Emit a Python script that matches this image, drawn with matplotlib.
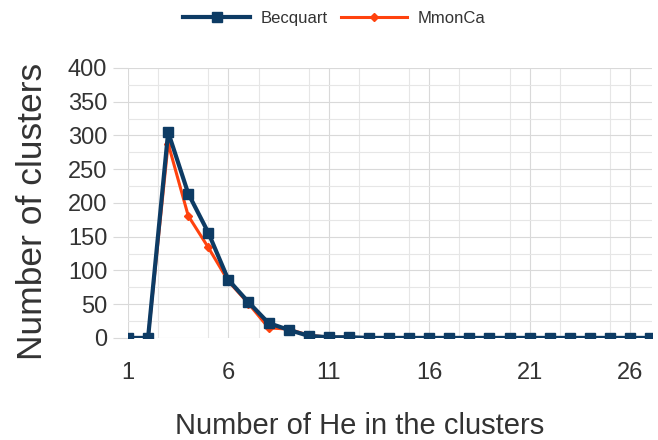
import numpy as np
import matplotlib
matplotlib.use("Agg")
import matplotlib.pyplot as plt
from matplotlib.ticker import MultipleLocator

plt.rcParams["font.family"] = ["Liberation Sans", "DejaVu Sans"]

# -----------------------------
# Data
# -----------------------------
n_he = list(range(1, 28))

becquart = [0, 0, 305, 214, 156, 86, 53, 22, 12, 3, 1, 1,
            0, 0, 0, 0, 0, 0, 0, 0, 0, 0, 0, 0, 0, 0, 0]
mmonca = [0, 0, 288, 181, 134, 84, 51, 15, 13, 4, 1, 1,
          0, 0, 0, 0, 0, 0, 0, 0, 0, 0, 0, 0, 0, 0, 0]

x_ticks = [1, 6, 11, 16, 21, 26]

# -----------------------------
# Plot
# -----------------------------
fig = plt.figure(figsize=(6.58, 4.4), dpi=100)
ax = fig.add_axes([0.1945, 0.232, 0.7965, 0.6135])

ax.plot(n_he, becquart, color="#0d3b64", lw=3.0, marker="s", ms=7,
        label="Becquart", zorder=3)
ax.plot(n_he, mmonca, color="#ff420e", lw=2.2, marker="D", ms=4,
        label="MmonCa", zorder=2)

ax.set_xlim(1, 27.1)
ax.set_ylim(0, 400)
ax.set_xticks(x_ticks)
ax.xaxis.set_minor_locator(MultipleLocator(2.5))
ax.yaxis.set_major_locator(MultipleLocator(50))
ax.yaxis.set_minor_locator(MultipleLocator(25))

ax.grid(True, which="major", color="#d9d9d9", lw=0.8)
ax.grid(True, which="minor", color="#e6e6e6", lw=0.8)
ax.set_axisbelow(True)

for s in ax.spines.values():
    s.set_visible(False)

ax.tick_params(axis="x", which="both", length=0, pad=17, labelsize=17,
               labelcolor="#333333")
ax.tick_params(axis="y", which="major", length=11, width=0.8, color="#d9d9d9",
               pad=4, labelsize=17, labelcolor="#333333")
ax.tick_params(axis="y", which="minor", length=0)

ax.set_xlabel("Number of He in the clusters", fontsize=21, color="#333333")
ax.xaxis.set_label_coords(0.4425, -0.275)
ax.set_ylabel("Number of clusters", fontsize=25.5, color="#333333")
ax.yaxis.set_label_coords(-0.15, 0.47)

fig.legend(loc="center", bbox_to_anchor=(0.508, 0.958), ncol=2, frameon=False,
           fontsize=12, handlelength=4.0, handletextpad=0.6,
           columnspacing=0.8, labelcolor="#333333")

plt.savefig("out.png", dpi=100)
plt.close(fig)
